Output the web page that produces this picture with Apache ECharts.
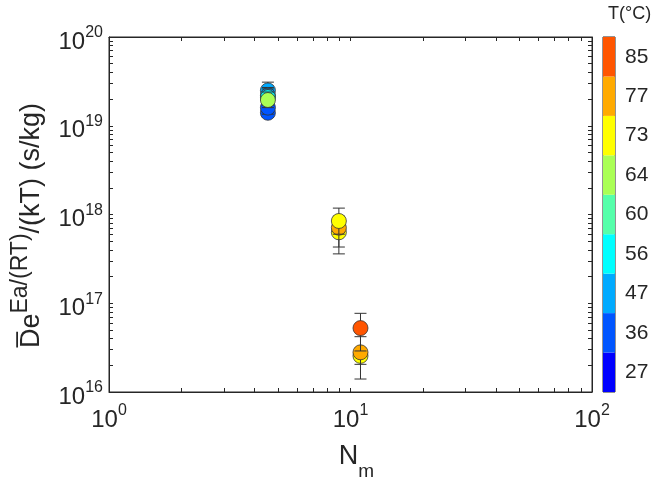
<!DOCTYPE html>
<html>
<head>
<meta charset="utf-8">
<script src="https://cdn.jsdelivr.net/npm/echarts@6/dist/echarts.min.js"></script>
<style>
  html, body { margin: 0; padding: 0; background: #fff; }
  #chart { width: 652px; height: 487px; }
</style>
</head>
<body>
<div id="chart"></div>
<script>
  // colorbar levels (bottom to top) and their colours
  var tempLevels = [27, 36, 47, 56, 60, 64, 73, 77, 85];
  var levelColors = ["#0000ff", "#0055ff", "#00aaff", "#00ffff", "#55ffaa", "#aaff55", "#ffff00", "#ffaa00", "#ff5500"];

  // points, in drawing order
  var nm     = [4.55, 4.55, 4.55, 4.55, 4.55, 4.55, 8.95, 8.95, 8.95, 11.0, 11.0, 11.0];
  var tempC  = [36, 36, 47, 47, 56, 64, 73, 77, 73, 73, 77, 85];
  var deVal  = [1.4e19, 1.6e19, 2.5e19, 2.2e19, 2.1e19, 1.95e19, 6.3e17, 7.1e17, 8.45e17, 2.55e16, 2.8e16, 5.25e16];
  var errLo  = [1.25e19, 1.35e19, 2.0e19, 1.8e19, 1.7e19, 1.6e19, 3.6e17, 4.3e17, 6.0e17, 2.05e16, 1.4e16, 2.9e16];
  var errHi  = [1.6e19, 1.85e19, 3.1e19, 2.7e19, 2.6e19, 2.4e19, 8.5e17, 9.6e17, 1.18e18, 3.0e16, 4.2e16, 7.7e16];

  // axis ticks
  var xMajor = [1, 10, 100];
  var yMajor = [1e16, 1e17, 1e18, 1e19, 1e20];

  var ink = "#262626";
  var font = "Liberation Sans";

  function minors(e0, e1) {
    var out = [];
    for (var e = e0; e < e1; e++) {
      for (var k = 2; k <= 9; k++) out.push(k * Math.pow(10, e));
    }
    return out;
  }
  var xTicks = xMajor.concat(minors(0, 2));
  var yTicks = yMajor.concat(minors(16, 20));

  function colorOf(t) {
    return levelColors[tempLevels.indexOf(t)];
  }

  var points = nm.map(function (x, i) {
    return [x, deVal[i], errLo[i], errHi[i], tempC[i]];
  });

  var powRich = {
    b: { fontSize: 24, lineHeight: 34, color: ink, fontFamily: font, verticalAlign: "bottom" },
    s: { fontSize: 16, lineHeight: 16, color: ink, fontFamily: font, padding: [5, 0, 0, 0], verticalAlign: "top" }
  };
  function powLabel(v) {
    return "{b|10}{s|" + Math.round(Math.log10(v)) + "}";
  }

  var tickStyle = { color: ink, width: 1 };

  var option = {
    animation: false,
    backgroundColor: "#fff",
    title: {
      text: "T(°C)",
      left: 603,
      top: 0,
      textStyle: { fontSize: 18, fontWeight: "normal", color: ink, fontFamily: font }
    },
    grid: [
      { left: 109, right: 60, top: 37, bottom: 95, show: true, borderColor: ink, borderWidth: 1 },
      { left: 603, width: 12, top: 37, bottom: 95, show: true, borderColor: ink, borderWidth: 1 }
    ],
    xAxis: [
      {
        type: "log", gridIndex: 0, min: 1, max: 100, position: "bottom",
        axisLine: { lineStyle: tickStyle },
        axisTick: { inside: true, length: 4, customValues: xTicks, lineStyle: tickStyle },
        axisLabel: { customValues: xMajor, formatter: powLabel, rich: powRich, margin: 6 },
        splitLine: { show: false },
        name: "{b|N}{sub|m}",
        nameLocation: "middle",
        nameGap: 51,
        nameTextStyle: {
          rich: {
            b: { fontSize: 27, lineHeight: 30, color: ink, fontFamily: font, padding: [0, 0, 0, 12], verticalAlign: "top" },
            sub: { fontSize: 19, lineHeight: 20, color: ink, fontFamily: font, padding: [19, 0, 0, 0], verticalAlign: "top" }
          }
        }
      },
      {
        type: "log", gridIndex: 0, min: 1, max: 100, position: "top",
        axisLine: { lineStyle: tickStyle },
        axisTick: { inside: true, length: 4, customValues: xTicks, lineStyle: tickStyle },
        axisLabel: { show: false },
        splitLine: { show: false }
      },
      { type: "value", gridIndex: 1, min: 0, max: 1, show: false }
    ],
    yAxis: [
      {
        type: "log", gridIndex: 0, min: 1e16, max: 1e20, position: "left",
        axisLine: { lineStyle: tickStyle },
        axisTick: { inside: true, length: 4, customValues: yTicks, lineStyle: tickStyle },
        axisLabel: { customValues: yMajor, formatter: powLabel, rich: powRich, margin: 6 },
        splitLine: { show: false },
        name: "{b|D\u0305e}{s|Ea/(RT)}{e|/(kT) (s/kg)}",
        nameLocation: "middle",
        nameRotate: 90,
        nameGap: 72,
        nameTextStyle: {
          rich: {
            b: { fontSize: 27, lineHeight: 28, color: ink, fontFamily: font, padding: [9, 0, 0, 0], verticalAlign: "top" },
            s: { fontSize: 23, lineHeight: 24, color: ink, fontFamily: font, verticalAlign: "top" },
            e: { fontSize: 27, lineHeight: 28, color: ink, fontFamily: font, padding: [9, 22, 0, 0], verticalAlign: "top" }
          }
        }
      },
      {
        type: "log", gridIndex: 0, min: 1e16, max: 1e20, position: "right",
        axisLine: { lineStyle: tickStyle },
        axisTick: { inside: true, length: 4, customValues: yTicks, lineStyle: tickStyle },
        axisLabel: { show: false },
        splitLine: { show: false }
      },
      {
        type: "category", gridIndex: 1, data: tempLevels.map(String), position: "right",
        axisLine: { show: false },
        axisTick: { show: false },
        axisLabel: { fontSize: 21, color: ink, fontFamily: font, margin: 10 }
      }
    ],
    series: [
      {
        type: "custom",
        xAxisIndex: 0,
        yAxisIndex: 0,
        data: points,
        encode: { x: 0, y: 1 },
        renderItem: function (params, api) {
          var x = api.value(0);
          var c = api.coord([x, api.value(1)]);
          var lo = api.coord([x, api.value(2)]);
          var hi = api.coord([x, api.value(3)]);
          var half = 6;
          var line = { stroke: "#333", lineWidth: 1 };
          return {
            type: "group",
            children: [
              { type: "line", shape: { x1: c[0], y1: lo[1], x2: c[0], y2: hi[1] }, style: line },
              { type: "line", shape: { x1: c[0] - half, y1: lo[1], x2: c[0] + half, y2: lo[1] }, style: line },
              { type: "line", shape: { x1: c[0] - half, y1: hi[1], x2: c[0] + half, y2: hi[1] }, style: line },
              {
                type: "circle",
                shape: { cx: c[0], cy: c[1], r: 7.5 },
                style: { fill: colorOf(api.value(4)), stroke: "#333", lineWidth: 0.8 }
              }
            ]
          };
        }
      },
      {
        type: "bar",
        xAxisIndex: 2,
        yAxisIndex: 2,
        barWidth: "100%",
        barCategoryGap: "0%",
        data: tempLevels.map(function (t, i) {
          return { value: 1, itemStyle: { color: levelColors[i] } };
        })
      }
    ]
  };

  var myChart = echarts.init(document.getElementById("chart"));
  myChart.setOption(option);
</script>
</body>
</html>
